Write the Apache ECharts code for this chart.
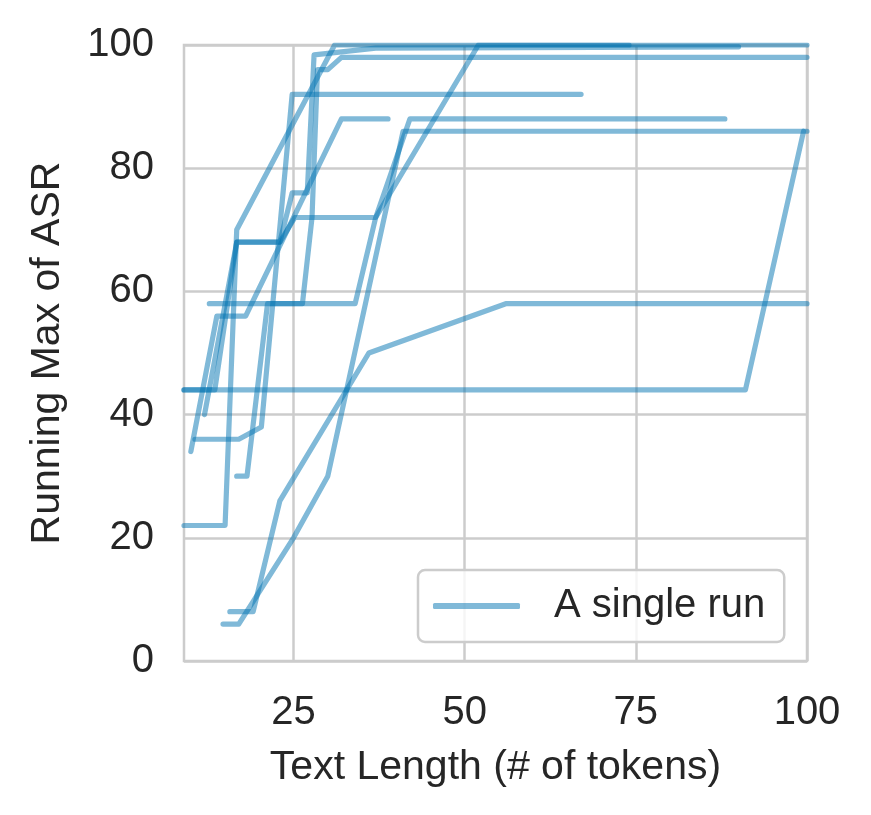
<!DOCTYPE html>
<html>
<head>
<meta charset="utf-8">
<script src="https://cdn.jsdelivr.net/npm/echarts@6/dist/echarts.min.js"></script>
<style>
  html, body { margin: 0; padding: 0; background: #fff; }
  #chart { width: 871px; height: 815px; }
</style>
</head>
<body>
<div id="chart"></div>
<script>
// each run: [text length, running max of ASR]
var run1 = [[9, 44], [91, 44], [99.5, 86]];
var run2 = [[9, 22], [15, 22], [16.7, 70], [31, 100], [74, 100]];
var run3 = [[10, 34], [13.8, 56], [18, 56], [32, 88], [38.8, 88]];
var run4 = [[10.6, 36], [17, 36], [20.3, 38], [24.8, 92], [67, 92]];
var run5 = [[12, 40], [16.7, 68], [23, 68], [25.2, 72], [37, 72], [42, 88], [88, 88]];
var run6 = [[12.7, 58], [34, 58], [37, 72], [52, 100], [100, 100]];
var run7 = [[16.7, 30], [18.2, 30], [21.2, 58], [26.3, 58], [27.7, 72], [28.5, 96], [30, 96], [32, 98], [100, 98]];
var run8 = [[15.7, 8], [19.1, 8], [23, 26], [36, 50], [56, 58], [100, 58]];
var run9 = [[14.7, 6], [17, 6], [25, 20], [30, 30], [41, 86], [100, 86]];
var run10 = [[9, 44], [13.5, 44], [16.7, 68], [23, 68], [24.8, 76], [27, 76], [28, 98.4], [37, 99.5], [90, 99.7]];
var runs = [run1, run2, run3, run4, run5, run6, run7, run8, run9, run10];

var xTicks = [25, 50, 75, 100];

var chart = echarts.init(document.getElementById('chart'));
var lineColor = '#0173b2';
var textColor = '#262626';
var gridColor = '#cccccc';
var font = 'Liberation Sans, Arial, sans-serif';

var series = runs.map(function (r) {
  return {
    name: 'A single run',
    type: 'line',
    data: r,
    symbol: 'none',
    lineStyle: { color: lineColor, width: 5.2, opacity: 0.5, cap: 'round', join: 'round' },
    itemStyle: { color: lineColor },
    emphasis: { disabled: true }
  };
});

var option = {
  animation: false,
  backgroundColor: '#fff',
  grid: { left: 184, top: 45, width: 623, height: 616, show: true, borderColor: gridColor, borderWidth: 2.5 },
  xAxis: {
    type: 'value',
    min: 9,
    max: 100,
    name: 'Text Length (# of tokens)',
    nameLocation: 'middle',
    nameGap: 86,
    nameTextStyle: { fontFamily: font, fontSize: 41, color: textColor },
    axisLine: { show: false },
    axisTick: { show: false, customValues: xTicks },
    axisLabel: { customValues: xTicks, fontFamily: font, fontSize: 40, color: textColor, margin: 32 },
    splitLine: { show: true, lineStyle: { color: gridColor, width: 2.5 } }
  },
  yAxis: {
    type: 'value',
    min: 0,
    max: 100,
    interval: 20,
    name: 'Running Max of ASR',
    nameLocation: 'middle',
    nameGap: 116,
    nameTextStyle: { fontFamily: font, fontSize: 41, color: textColor },
    axisLine: { show: false },
    axisTick: { show: false },
    axisLabel: { fontFamily: font, fontSize: 40, color: textColor, margin: 30 },
    splitLine: { show: true, lineStyle: { color: gridColor, width: 2.5 } }
  },
  legend: {
    data: ['A single run'],
    left: 418,
    top: 570,
    padding: [16, 19, 16, 15],
    backgroundColor: 'rgba(255,255,255,0.8)',
    borderColor: gridColor,
    borderWidth: 2.5,
    borderRadius: 7,
    itemWidth: 87,
    itemHeight: 6,
    itemGap: 10,
    icon: 'roundRect',
    itemStyle: { color: 'rgba(1,115,178,0.5)', opacity: 1 },
    textStyle: { fontFamily: font, fontSize: 40, color: textColor, padding: [0, 0, 0, 29] },
    selectedMode: false
  },
  series: series
};
chart.setOption(option);
</script>
</body>
</html>
